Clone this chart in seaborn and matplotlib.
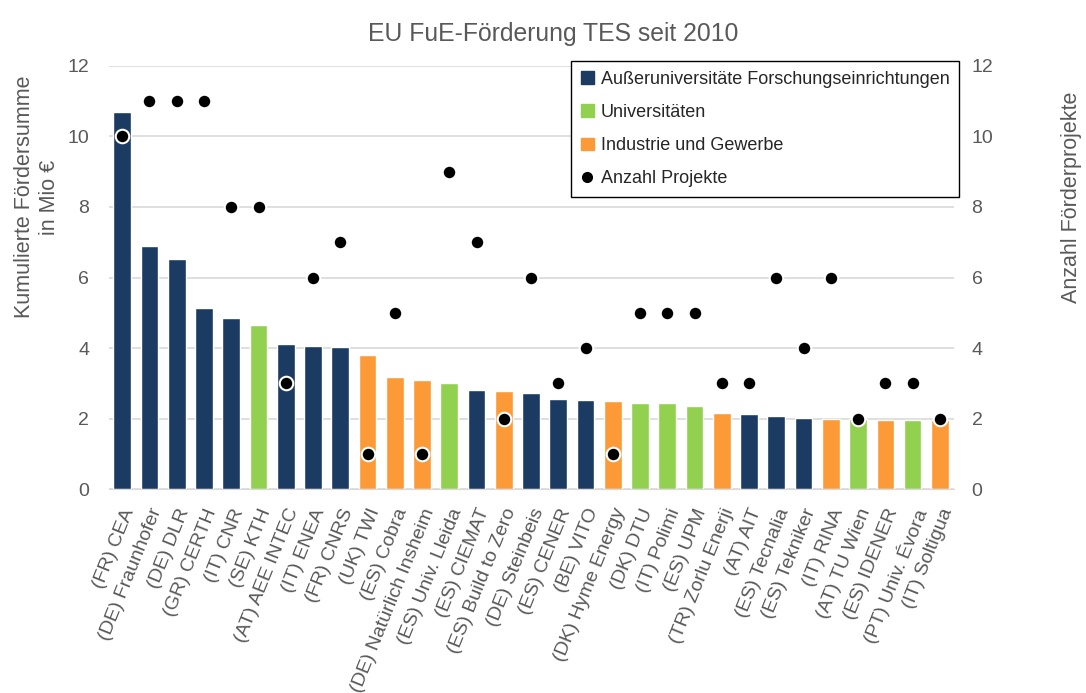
import pandas as pd
import seaborn as sns
import matplotlib.pyplot as plt
from matplotlib.patches import Patch
from matplotlib.lines import Line2D

institutionen = ['(FR) CEA', '(DE) Fraunhofer', '(DE) DLR', '(GR) CERTH', '(IT) CNR',
                 '(SE) KTH', '(AT) AEE INTEC', '(IT) ENEA', '(FR) CNRS', '(UK) TWI',
                 '(ES) Cobra', '(DE) Natürlich Insheim', '(ES) Univ. Lleida', '(ES) CIEMAT',
                 '(ES) Build to Zero', '(DE) Steinbeis', '(ES) CENER', '(BE) VITO',
                 '(DK) Hyme Energy', '(DK) DTU', '(IT) Polimi', '(ES) UPM', '(TR) Zorlu Enerji',
                 '(AT) AIT', '(ES) Tecnalia', '(ES) Tekniker', '(IT) RINA', '(AT) TU Wien',
                 '(ES) IDENER', '(PT) Univ. Évora', '(IT) Soltigua']
foerdersumme = [10.68, 6.88, 6.52, 5.13, 4.85, 4.65, 4.11, 4.07, 4.03, 3.81,
                3.18, 3.09, 3.02, 2.80, 2.79, 2.72, 2.57, 2.52, 2.49, 2.45,
                2.45, 2.37, 2.16, 2.12, 2.09, 2.01, 1.99, 1.99, 1.97, 1.96, 1.96]
projekte = [10, 11, 11, 11, 8, 8, 3, 6, 7, 1, 5, 1, 9, 7, 2, 6, 3, 4, 1, 5,
            5, 5, 3, 3, 6, 4, 6, 2, 3, 3, 2]
A = 'Außeruniversitäte Forschungseinrichtungen'
U = 'Universitäten'
I = 'Industrie und Gewerbe'
typ = [A, A, A, A, A, U, A, A, A, I, I, I, U, A, I, A, A, A, I, U,
       U, U, I, A, A, A, I, U, I, U, I]
farben = {A: '#1b3b62', U: '#92d050', I: '#fd9a38'}

df = pd.DataFrame({'inst': institutionen, 'summe': foerdersumme,
                   'projekte': projekte, 'typ': typ})

sns.set_style('white')
plt.rcParams['font.family'] = ['Liberation Sans', 'DejaVu Sans']
grau = '#595959'

fig, ax = plt.subplots(figsize=(10.86, 6.93), dpi=100)
fig.subplots_adjust(left=0.100, right=0.878, top=0.905, bottom=0.294)

# Balken: kumulierte Fördersumme
sns.barplot(data=df, x='inst', y='summe', hue='typ', palette=farben,
            dodge=False, width=0.65, saturation=1, legend=False, ax=ax)
ax.set_xlim(-0.5, len(df) - 0.5)
ax.set_ylim(0, 12)
ax.set_yticks(range(0, 13, 2))
ax.yaxis.grid(True, color='#d9d9d9', linewidth=1.2)
ax.set_axisbelow(True)
for s in ['top', 'right', 'left']:
    ax.spines[s].set_visible(False)
ax.spines['bottom'].set_color('#d9d9d9')
ax.tick_params(axis='both', colors=grau, labelsize=14, length=0)
ax.tick_params(axis='y', pad=14)
ax.set_xticks(range(len(df)))
ax.set_xticklabels(institutionen, rotation=68, ha='right', rotation_mode='anchor')
ax.tick_params(axis='x', pad=12)
ax.set_xlabel('')
ax.set_ylabel('Kumulierte Fördersumme\nin Mio €', color=grau, fontsize=15.5)
ax.yaxis.set_label_coords(-0.058, 0.69)

# Punkte: Anzahl Projekte auf zweiter Achse
ax2 = ax.twinx()
sns.scatterplot(data=df, x='inst', y='projekte', color='black', s=95,
                edgecolor='white', linewidth=1.5, ax=ax2, zorder=3)
ax2.set_ylim(0, 12)
ax2.set_yticks(range(0, 13, 2))
ax2.set_xlim(-0.5, len(df) - 0.5)
for s in ax2.spines.values():
    s.set_visible(False)
ax2.tick_params(axis='y', colors=grau, labelsize=14, length=0, pad=13)
ax2.set_ylabel('Anzahl Förderprojekte', color=grau, fontsize=15.5)
ax2.yaxis.set_label_coords(1.127, 0.69)
ax2.set_xlabel('')

ax.set_title('EU FuE-Förderung TES seit 2010', color=grau, fontsize=17.8, pad=18, x=0.526)

handles = [Patch(color=farben[A], label=A), Patch(color=farben[U], label=U),
           Patch(color=farben[I], label=I),
           Line2D([], [], marker='o', color='black', linestyle='', markersize=7,
                  label='Anzahl Projekte')]
leg = ax2.legend(handles=handles, loc='upper right', bbox_to_anchor=(1.007, 1.012),
                 frameon=True, fancybox=False, edgecolor='black', framealpha=1,
                 handlelength=0.7, handleheight=0.7, handletextpad=0.4,
                 labelspacing=0.9, borderpad=0.55, borderaxespad=0,
                 prop={'size': 13})
leg.get_frame().set_linewidth(1.0)

plt.savefig('out.png', dpi=100)
